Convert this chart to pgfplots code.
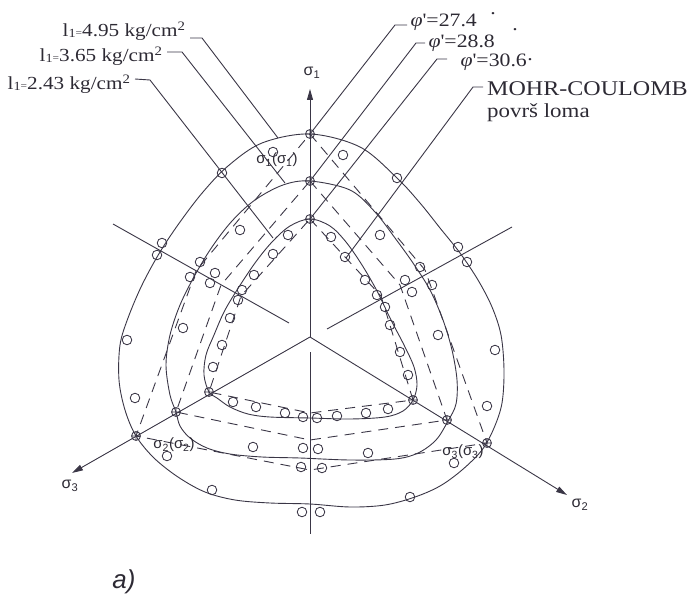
\documentclass[border=0pt]{standalone}
\usepackage{fontspec}
\usepackage{pgfplots}
\pgfplotsset{compat=1.18}
\usetikzlibrary{arrows.meta}
\setmainfont{Liberation Serif}
\newfontfamily\labfont[FakeStretch=1.15]{Liberation Serif}
\newfontfamily\sigfont{Liberation Sans}
\definecolor{ink}{RGB}{58,54,70}
\definecolor{txt}{RGB}{45,42,52}

\begin{document}
\begin{tikzpicture}
\begin{axis}[
  width=688bp, height=599bp, scale only axis,
  xmin=0, xmax=688, ymin=0, ymax=599, y dir=reverse,
  hide axis, clip=false,
  every axis plot/.append style={ink, line width=0.9bp},
]
% principal stress axes in the deviatoric plane
\addplot[ink, no marks, -{Triangle[length=11bp,width=6bp]}] coordinates {(310,337) (310,89)};
\addplot[ink, no marks, -{Triangle[length=11bp,width=6bp]}] coordinates {(310,337) (72,473)};
\addplot[ink, no marks, -{Triangle[length=11bp,width=6bp]}] coordinates {(310,337) (567,495)};
% negative axis directions
\addplot[ink, no marks] coordinates {(113,224) (289,323)};
\addplot[ink, no marks] coordinates {(327,329) (512,227)};
\addplot[ink, no marks] coordinates {(310,352) (310,534)};

% failure surfaces for three values of I1
\addplot[ink, no marks, smooth cycle, tension=0.55] coordinates {
 (310,134) (360,147) (397,178) (420,203) (440,228) (460,253) (478,280)
 (492,307) (501,335) (504,370) (502,403) (494,428) (482,450) (462,470)
 (440,486) (415,497) (385,505) (350,507) (310,504) (270,503) (235,500)
 (205,492) (178,477) (154,458) (136,436) (125,410) (119,380) (120,345)
 (128,318) (142,285) (160,252) (180,222) (203,192) (228,166) (262,143)};
\addplot[ink, no marks, smooth cycle, tension=0.55] coordinates {
 (310,181) (350,190) (375,212) (395,238) (413,263) (430,290) (443,320)
 (452,350) (457,380) (456,404) (448,421) (436,440) (418,453) (395,459)
 (350,460) (300,458) (262,457) (230,454) (207,448) (190,438) (180,426)
 (176,412) (170,395) (166,365) (170,335) (180,305) (195,275) (212,247)
 (232,221) (255,200) (283,185)};
\addplot[ink, no marks, smooth cycle, tension=0.55] coordinates {
 (310,219) (330,226) (346,242) (362,265) (377,291) (391,320) (404,345)
 (414,367) (417,385) (413,400) (403,411) (385,417) (350,419) (310,418)
 (270,417) (248,414) (230,407) (217,398) (209,392) (204,375) (206,355)
 (214,335) (224,312) (237,290) (255,263) (272,242) (290,226)};

% Mohr-Coulomb hexagons
\addplot[ink, no marks, dash pattern=on 10bp off 7bp] coordinates {
 (310,134) (425,270) (487,443) (310,470) (136,436) (196,271) (310,134)};
\addplot[ink, no marks, dash pattern=on 10bp off 7bp] coordinates {
 (310,181) (400,285) (447,420) (310,440) (176,412) (221,285) (310,181)};
\addplot[ink, no marks, dash pattern=on 10bp off 7bp] coordinates {
 (310,219) (381,296) (413,400) (310,413) (209,392) (241,296) (310,219)};

% leader lines
\addplot[ink, no marks] coordinates {(190,38) (202,38) (278,138)};
\addplot[ink, no marks] coordinates {(167,52) (182,52) (285,183)};
\addplot[ink, no marks] coordinates {(135,79) (150,80) (273,238)};
\addplot[ink, no marks] coordinates {(407,25) (395,25) (310,134)};
\addplot[ink, no marks] coordinates {(425,43) (416,43) (310,181)};
\addplot[ink, no marks] coordinates {(447,59) (437,59) (310,219)};
\addplot[ink, no marks] coordinates {(483,87) (473,87) (346,258)};

% test results
\addplot[ink, only marks, mark=o, mark size=4.8pt, mark options={line width=0.85bp}] coordinates {
 (273,152) (343,155) (397,178) (222,173) (240,230) (162,243) (157,255)
 (200,262) (215,273) (190,277) (210,283) (288,235) (273,254) (254,275)
 (242,290) (238,300) (230,318) (183,328) (127,340) (331,237) (345,257)
 (380,235) (458,247) (467,262) (420,267) (432,285) (405,280) (412,292)
 (365,280) (377,295) (385,307) (390,325) (438,335) (135,398) (222,345)
 (213,367) (233,402) (256,407) (285,413) (303,417) (317,418) (337,416)
 (366,413) (388,409) (400,352) (408,375) (495,350) (487,406) (253,447)
 (303,448) (318,449) (368,453) (301,467) (322,468) (167,456) (454,463)
 (212,490) (410,497) (302,512) (320,512)};
% triaxial compression points on the axes
\addplot[ink, only marks, mark=oplus, mark size=4.5pt, mark options={line width=0.85bp}] coordinates {
 (310,134) (310,181) (310,219) (136,436) (176,412) (209,392)
 (487,443) (447,420) (413,400)};

% labels
\node[txt, anchor=base east, font=\labfont\fontsize{18.5}{20}\selectfont] at (axis cs:189,37)
 {l\raisebox{-1bp}{\fontsize{12.5}{12}\selectfont 1}{\fontsize{10}{10}\selectfont =}4.95 kg/cm\textsuperscript{2}};
\node[txt, anchor=base east, font=\labfont\fontsize{18.5}{20}\selectfont] at (axis cs:166,62)
 {l\raisebox{-1bp}{\fontsize{12.5}{12}\selectfont 1}{\fontsize{10}{10}\selectfont =}3.65 kg/cm\textsuperscript{2}};
\node[txt, anchor=base east, font=\labfont\fontsize{18.5}{20}\selectfont] at (axis cs:134,90)
 {l\raisebox{-1bp}{\fontsize{12.5}{12}\selectfont 1}{\fontsize{10}{10}\selectfont =}2.43 kg/cm\textsuperscript{2}};

\node[txt, anchor=base west, font=\labfont\fontsize{19}{21}\selectfont] at (axis cs:407,27) {\textit{φ}'=27.4};
\node[txt, anchor=base west, font=\labfont\fontsize{19}{21}\selectfont] at (axis cs:425,48) {\textit{φ}'=28.8};
\node[txt, anchor=base west, font=\labfont\fontsize{19}{21}\selectfont] at (axis cs:457,67) {\textit{φ}'=30.6};
\node[txt, anchor=base, inner sep=0pt, font=\labfont\fontsize{19}{21}\selectfont] at (axis cs:493,15) {\smash{.}};
\node[txt, anchor=base, inner sep=0pt, font=\labfont\fontsize{19}{21}\selectfont] at (axis cs:515,31) {\smash{.}};
\node[txt, anchor=base, inner sep=0pt, font=\labfont\fontsize{19}{21}\selectfont] at (axis cs:530,61) {\smash{.}};

\node[txt, anchor=base west, font=\labfont\fontsize{21}{23}\selectfont, inner sep=0pt] at (axis cs:487,95) {MOHR-COULOMB};
\node[txt, anchor=base west, font=\labfont\fontsize{20}{22}\selectfont, inner sep=0pt] at (axis cs:487,117) {površ loma};

\node[txt, font=\sigfont\fontsize{16}{18}\selectfont] at (axis cs:312,73) {σ\textsubscript{1}};
\node[txt, font=\sigfont\fontsize{16}{18}\selectfont] at (axis cs:70,486) {σ\textsubscript{3}};
\node[txt, font=\sigfont\fontsize{16}{18}\selectfont] at (axis cs:580,505) {σ\textsubscript{2}};

\node[txt, font=\sigfont\fontsize{15}{17}\selectfont] at (axis cs:277,160) {σ\textsubscript{1}(σ\textsubscript{1})};
\node[txt, font=\sigfont\fontsize{15}{17}\selectfont] at (axis cs:174,445) {σ\textsubscript{2}(σ\textsubscript{2})};
\node[txt, font=\sigfont\fontsize{15}{17}\selectfont] at (axis cs:463,452) {σ\textsubscript{3}(σ\textsubscript{3})};

\node[txt, font=\sigfont\itshape\fontsize{26}{28}\selectfont] at (axis cs:124,582) {a)};
\end{axis}
\pgfresetboundingbox
\useasboundingbox (current axis.south west) rectangle (current axis.north east);
\end{tikzpicture}
\end{document}
